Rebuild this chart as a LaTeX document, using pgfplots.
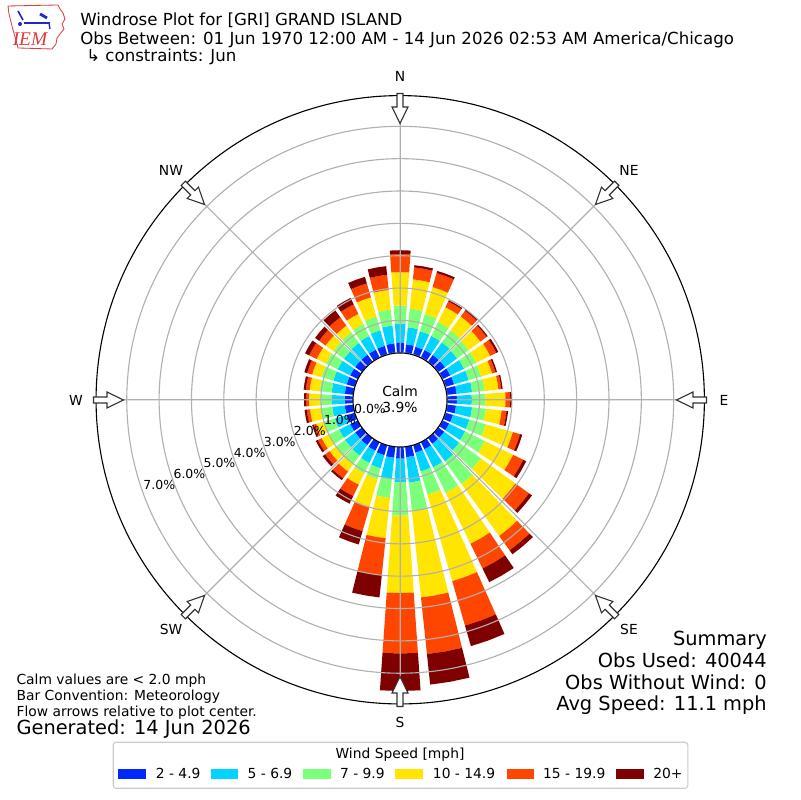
\documentclass[border=0pt]{standalone}
\usepackage{fontspec}
\setmainfont{DejaVu Sans}
\newfontfamily\logofont{Liberation Serif}
\usepackage{pgfplots}
\pgfplotsset{compat=1.18}
\usepackage{pgfplotstable}
\usepgfplotslibrary{polar}

\definecolor{ws1}{RGB}{0,40,255}
\definecolor{ws2}{RGB}{0,212,255}
\definecolor{ws3}{RGB}{124,255,121}
\definecolor{ws4}{RGB}{255,229,0}
\definecolor{ws5}{RGB}{255,70,0}
\definecolor{ws6}{RGB}{127,0,0}
\definecolor{gridgray}{RGB}{176,176,176}
\definecolor{leggray}{RGB}{204,204,204}
\definecolor{logored}{RGB}{220,60,60}
\definecolor{logoblue}{RGB}{30,40,200}

% cumulative frequency (%) per direction: 2-4.9, 5-6.9, 7-9.9, 10-14.9, 15-19.9, 20+
\pgfplotstableread{
dir b1 b2 b3 b4 b5 b6
0   0.32 0.90 1.46 2.49 3.06 3.17
10  0.27 0.80 1.38 2.29 2.66 2.73
20  0.25 0.75 1.30 2.17 2.62 2.69
30  0.26 0.74 1.22 1.73 1.93 1.97
40  0.26 0.74 1.20 1.73 1.95 2.00
50  0.26 0.72 1.16 1.61 1.85 1.89
60  0.27 0.74 1.16 1.64 1.85 1.92
70  0.28 0.75 1.15 1.50 1.61 1.66
80  0.30 0.78 1.17 1.60 1.69 1.73
90  0.30 0.76 1.18 1.80 1.95 2.00
100 0.28 0.78 1.21 1.70 1.85 1.90
110 0.24 0.77 1.30 2.17 2.40 2.47
120 0.23 0.78 1.46 2.43 2.78 2.88
130 0.23 0.80 1.63 2.95 3.47 3.58
140 0.23 0.90 1.77 3.75 4.30 4.45
150 0.25 0.87 1.75 3.50 4.35 4.82
160 0.25 0.85 1.60 4.38 5.81 6.47
170 0.33 1.12 2.02 4.69 6.45 7.40
180 0.37 1.10 2.13 4.52 6.39 7.55
190 0.35 1.00 1.60 2.85 4.00 4.69
200 0.33 0.75 1.10 2.00 2.77 3.20
210 0.30 0.72 1.08 1.47 1.86 2.12
220 0.28 0.68 1.02 1.29 1.55 1.62
230 0.27 0.66 1.00 1.25 1.42 1.51
240 0.27 0.65 1.00 1.25 1.38 1.45
250 0.27 0.65 1.00 1.25 1.33 1.38
260 0.27 0.66 1.02 1.35 1.45 1.52
270 0.27 0.66 1.02 1.37 1.46 1.52
280 0.27 0.68 1.05 1.36 1.48 1.55
290 0.27 0.70 1.08 1.38 1.54 1.63
300 0.27 0.70 1.10 1.42 1.68 1.82
310 0.27 0.70 1.10 1.40 1.65 1.80
320 0.27 0.72 1.12 1.38 1.70 1.96
330 0.27 0.74 1.15 1.50 1.83 2.05
340 0.28 0.78 1.22 1.84 2.29 2.50
350 0.30 0.85 1.35 1.96 2.43 2.70
}\wind

\def\off{1.4537}
\newcommand\fs[1]{\fontsize{#1}{#1}\selectfont}
\newcommand\seg[1]{%
  \pgfplotstablegetelem{\i}{b#1}\of\wind
  \let\hi\pgfplotsretval
  \pgfmathsetmacro\rlo{\lo+\off}%
  \pgfmathsetmacro\rhi{\hi+\off}%
  \edef\doplot{\noexpand\addplot[fill=ws#1, draw=none, forget plot] coordinates {(\aL,\rlo) (\ang,\rlo) (\aR,\rlo) (\aR,\rhi) (\ang,\rhi) (\aL,\rhi)} --cycle;}%
  \doplot
  \let\lo\hi}
\newcommand\arrowat[1]{%
  \begin{scope}[shift={(400,400)}, rotate=#1]
    \draw[fill=white, draw=black!80, line width=0.8pt, line join=miter]
      (276.5,0) -- (293,8) -- (293,3) -- (306.5,3) -- (306.5,-3) -- (293,-3) -- (293,-8) -- cycle;
  \end{scope}}

\begin{document}
\begin{tikzpicture}[x=0.01in,y=0.01in]
\fill[white] (0,0) rectangle (800,800);
\begin{polaraxis}[
  at={(4in,4in)}, anchor=center,
  scale only axis, width=6.08in, height=6.08in,
  xmin=0, xmax=360, ymin=0, ymax=9.403,
  xtick={0,45,...,315}, xticklabels={},
  ytick={1.4537,2.4537,3.4537,4.4537,5.4537,6.4537,7.4537,8.4537}, yticklabels={},
  grid=major, major grid style={draw=gridgray, line width=0.8pt},
  axis line style={black, line width=0.8pt},
  y axis line style={draw=none},
  major tick length=0pt,
  axis on top, clip=false,
]
\pgfplotsforeachungrouped \i in {0,...,35}{%
  \pgfplotstablegetelem{\i}{dir}\of\wind
  \pgfmathsetmacro\ang{90-\pgfplotsretval}%
  \pgfmathsetmacro\aL{\ang-4}%
  \pgfmathsetmacro\aR{\ang+4}%
  \def\lo{0}%
  \seg{1}\seg{2}\seg{3}\seg{4}\seg{5}\seg{6}%
}
\end{polaraxis}

% calm circle
\filldraw[fill=white, draw=black, line width=0.8pt] (400,400) circle (0.47in);
\node[anchor=base, inner sep=0] at (400,403.3) {\fs{10}Calm};
\node[anchor=base, inner sep=0] at (400,387.7) {\fs{10}3.9\%};

% radial labels
\foreach \k in {0,...,7}{
  \node[anchor=center, inner sep=0] at ({370-30.1*\k},{800-(409.3+10.8*\k)}) {\fs{9}\k.0\%};
}

% direction arrows
\foreach \a in {0,45,...,315}{\arrowat{\a}}

% direction labels
\node[inner sep=0] at (400,724) {\fs{10}N};
\node[inner sep=0] at (629,630) {\fs{10}NE};
\node[inner sep=0] at (724,400) {\fs{10}E};
\node[inner sep=0] at (629,171) {\fs{10}SE};
\node[inner sep=0] at (400,78) {\fs{10}S};
\node[inner sep=0] at (171,171) {\fs{10}SW};
\node[inner sep=0] at (76,400) {\fs{10}W};
\node[inner sep=0] at (171,630) {\fs{10}NW};

% titles
\node[anchor=base west, inner sep=0] at (80,774) {\fs{12}Windrose Plot for [GRI] GRAND ISLAND};
\node[anchor=base west, inner sep=0] at (80,755.7) {\fs{12}Obs Between: 01 Jun 1970 12:00 AM - 14 Jun 2026 02:53 AM America/Chicago};
\node[anchor=base west, inner sep=0] at (86,738.5) {\fs{12}↳ constraints: Jun};

% logo
\draw[logored, line width=0.6pt] (8,794) -- (58,795) -- (60,791) -- (63,787) -- (65,781) -- (62,776) -- (64,771) -- (60,766) -- (57,762) -- (56,756) -- (52,751) -- (18,752) -- (16,760) -- (13,770) -- (11,778) -- (9,786) -- cycle;
\draw[logoblue, line width=1.2pt] (24,777) -- (50,777);
\draw[logoblue, line width=1.2pt] (18,789) -- (23,780);
\fill[logoblue] (20,776) circle (0.02in);
\draw[logoblue, line width=2pt] (40,786) -- (47,782);
\draw[logoblue, line width=1pt] (49,777) -- (50,771);
\node[anchor=base, inner sep=0, text=logored] at (30,754) {\logofont\itshape\fs{14}IEM};

% summary
\node[anchor=base east, inner sep=0] at (767,154) {\fs{14}Summary};
\node[anchor=base east, inner sep=0] at (767,132.3) {\fs{14}Obs Used: 40044};
\node[anchor=base east, inner sep=0] at (767,110.7) {\fs{14}Obs Without Wind: 0};
\node[anchor=base east, inner sep=0] at (767,89) {\fs{14}Avg Speed: 11.1 mph};

% notes
\node[anchor=base west, inner sep=0] at (16.3,115) {\fs{10}Calm values are < 2.0 mph};
\node[anchor=base west, inner sep=0] at (16.3,99) {\fs{10}Bar Convention: Meteorology};
\node[anchor=base west, inner sep=0] at (16.3,83.3) {\fs{10}Flow arrows relative to plot center.};
\node[anchor=base west, inner sep=0] at (16.3,65) {\fs{14}Generated: 14 Jun 2026};

% legend
\draw[rounded corners=2pt, draw=leggray, line width=0.8pt, fill=white] (113.3,11.7) rectangle (687.8,57.7);
\node[anchor=base, inner sep=0] at (400,41.7) {\fs{10}Wind Speed [mph]};
\fill[ws1] (118.4,21) rectangle ++(27.6,9.7);
\fill[ws2] (210.7,21) rectangle ++(27.6,9.7);
\fill[ws3] (303.0,21) rectangle ++(27.6,9.7);
\fill[ws4] (395.4,21) rectangle ++(27.6,9.7);
\fill[ws5] (506.6,21) rectangle ++(27.6,9.7);
\fill[ws6] (616.3,21) rectangle ++(27.6,9.7);
\node[anchor=base west, inner sep=0] at (155.6,21) {\fs{10}2 - 4.9};
\node[anchor=base west, inner sep=0] at (247.4,21) {\fs{10}5 - 6.9};
\node[anchor=base west, inner sep=0] at (339.8,21) {\fs{10}7 - 9.9};
\node[anchor=base west, inner sep=0] at (432.7,21) {\fs{10}10 - 14.9};
\node[anchor=base west, inner sep=0] at (542.9,21) {\fs{10}15 - 19.9};
\node[anchor=base west, inner sep=0] at (653.0,21) {\fs{10}20+};

\pgfresetboundingbox
\path[use as bounding box] (0,0) rectangle (800,800);
\end{tikzpicture}
\end{document}
